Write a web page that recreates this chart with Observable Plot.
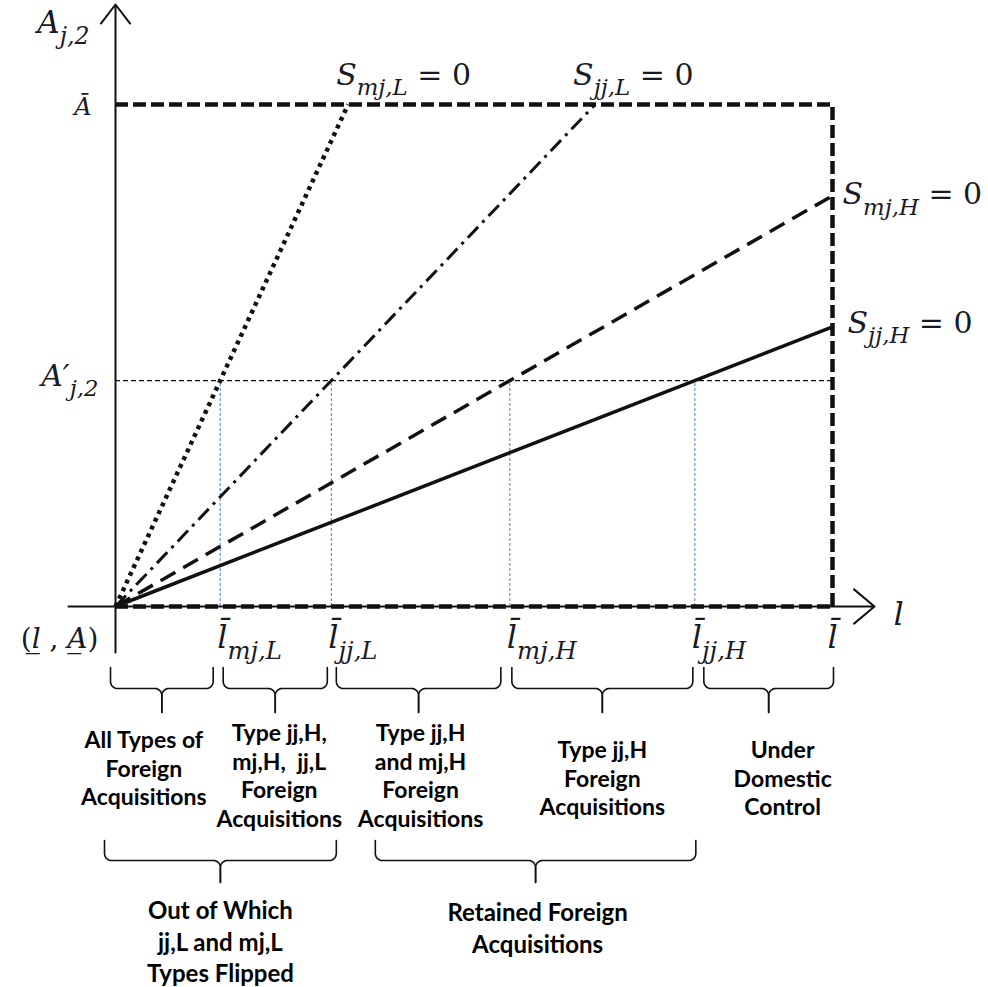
<!DOCTYPE html>
<html><head><meta charset="utf-8">
<script src="https://cdn.jsdelivr.net/npm/d3@7"></script>
<script src="https://cdn.jsdelivr.net/npm/@observablehq/plot@0.6"></script>
<style>html,body{margin:0;padding:0;background:#fff}</style>
</head><body><div id="chart"></div>
<script>
// ---------------- data ----------------
const thresholdKeys = ["mj,L", "jj,L", "mj,H", "jj,H"];
const thresholdValues = [1.46, 3.01, 5.50, 8.08];   // l-bar thresholds where each S = 0 line meets A'
const lBar = 10;
const aBar = 10;
const aPrime = 4.5;
const curveLabels = ["S_{mj,L}| = 0", "S_{jj,L}| = 0", "S_{mj,H}| = 0", "S_{jj,H}| = 0"];
const tickLabels = thresholdKeys.map(k => "l\u0304_{" + k + "}");
const row1Labels = [
  "All Types of\nForeign\nAcquisitions",
  "Type jj,H,\nmj,H,  jj,L\nForeign\nAcquisitions",
  "Type jj,H\nand mj,H\nForeign\nAcquisitions",
  "Type jj,H\nForeign\nAcquisitions",
  "Under\nDomestic\nControl"
];
const row2Labels = ["Out of Which\njj,L and mj,L\nTypes Flipped", "Retained Foreign\nAcquisitions"];

// ---------------- layout ----------------
const W = 988, H = 987;
const F = {x0: 115, y0: 606, kx: 71.7, ky: 50.2};
const xAt = px => (px - F.x0) / F.kx;
const yAt = py => (F.y0 - py) / F.ky;
const pxX = v => F.x0 + v * F.kx;

const curves = thresholdValues.map((t, i) => {
  const s = aPrime / t;
  const x2 = Math.min(lBar, aBar / s);
  return {i, x1: 0, y1: 0, x2, y2: s * x2, label: curveLabels[i]};
});
const curveStyles = [
  {strokeWidth: 4.5, strokeDasharray: "4,4.5"},
  {strokeWidth: 3, strokeDasharray: "15,6,3,6"},
  {strokeWidth: 3.5, strokeDasharray: "17,9"},
  {strokeWidth: 3.5}
];
const curveLabelPos = [
  {dx: -12, dy: -29}, {dx: -22, dy: -29}, {dx: 10, dy: -1}, {dx: 15, dy: -4}
];

function braceLines(pxA, pxB, top, mid, tip, id, r = 7) {
  const m = (pxA + pxB) / 2, out = [];
  const half = (edge, dir, hid) => {
    const pts = [[edge, top]];
    const arc = (cx, cy, a0, a1) => {
      for (let k = 0; k <= 8; k++) {
        const a = a0 + (a1 - a0) * k / 8;
        pts.push([cx + r * Math.cos(a), cy + r * Math.sin(a)]);
      }
    };
    if (dir > 0) { arc(edge + r, mid - r, Math.PI, Math.PI / 2); arc(m - r, mid + r, -Math.PI / 2, 0); }
    else { arc(edge - r, mid - r, 0, Math.PI / 2); arc(m + r, mid + r, -Math.PI / 2, -Math.PI); }
    pts.push([m, tip]);
    pts.forEach(([x, y]) => out.push({x: xAt(x), y: yAt(y), id: hid}));
  };
  half(pxA, 1, id + "L");
  half(pxB, -1, id + "R");
  return out;
}

const bounds = [0, ...thresholdValues, lBar];
const row1Inset = [[-5, -7], [3, -4], [5, -9], [2, -2], [9, 1]];
const row1Dx = [-18, 4, 2, 0, 14];
const row1FirstLine = [735, 728, 728, 745, 745];
let braceData = [];
const row1Text = row1Labels.map((label, i) => {
  const a = pxX(bounds[i]) + row1Inset[i][0], b = pxX(bounds[i + 1]) + row1Inset[i][1];
  braceData = braceData.concat(braceLines(a, b, 667, 688, 712, "r1_" + i));
  return {x: xAt((a + b) / 2 + row1Dx[i]), y: yAt(row1FirstLine[i] - 8), text: label};
});
const row2Spans = [[0, thresholdValues[1], -11, 5], [thresholdValues[1], thresholdValues[3], 44, 1]];
const row2Dx = [0, 2];
const row2FirstLine = [905, 907];
const row2Text = row2Labels.map((label, i) => {
  const [u, v, ia, ib] = row2Spans[i];
  const a = pxX(u) + ia, b = pxX(v) + ib;
  braceData = braceData.concat(braceLines(a, b, 840, 860, 882, "r2_" + i));
  return {x: xAt((a + b) / 2 + row2Dx[i]), y: yAt(row2FirstLine[i] - 8.4), text: label};
});

const ink = "#111";
const mathColor = "#1a1a24";
const mathFont = "DejaVu Serif";
const mathText = (data, opts) => Plot.text(data, {
  fontFamily: mathFont, fontStyle: "italic", fill: mathColor, ariaDescription: "math",
  lineAnchor: "middle", ...opts
});

const xAxisStart = xAt(68), xAxisEnd = xAt(874);
const yAxisStart = yAt(652), yAxisEnd = yAt(4);

const plot = Plot.plot({
  width: W, height: H,
  marginTop: 0, marginRight: 0, marginBottom: 0, marginLeft: 0,
  x: {domain: [xAt(0), xAt(W)], axis: null},
  y: {domain: [yAt(H), yAt(0)], axis: null},
  style: {background: "#fff", overflow: "visible"},
  marks: [
    // thin guide lines
    Plot.ruleX(thresholdValues, {y1: 0, y2: aPrime, stroke: "#4a7cc9", strokeWidth: 1, strokeDasharray: "3,2"}),
    Plot.ruleY([aPrime], {x1: 0, x2: lBar, stroke: ink, strokeWidth: 1.3, strokeDasharray: "5,3"}),
    // axes
    Plot.arrow([{x1: xAxisStart, y1: 0, x2: xAxisEnd, y2: 0}], {x1: "x1", y1: "y1", x2: "x2", y2: "y2", stroke: ink, strokeWidth: 2, headLength: 20, headAngle: 80}),
    Plot.arrow([{x1: 0, y1: yAxisStart, x2: 0, y2: yAxisEnd}], {x1: "x1", y1: "y1", x2: "x2", y2: "y2", stroke: ink, strokeWidth: 2, headLength: 18, headAngle: 75}),
    // dashed bounding box
    Plot.ruleY([aBar, 0], {x1: 0, x2: lBar, stroke: ink, strokeWidth: 4.5, strokeDasharray: "13,5"}),
    Plot.ruleX([lBar], {y1: 0, y2: aBar, stroke: ink, strokeWidth: 4.5, strokeDasharray: "13,5"}),
    // S = 0 lines
    ...curves.map((c, i) => Plot.link([c], {x1: "x1", y1: "y1", x2: "x2", y2: "y2", stroke: ink, ...curveStyles[i]})),
    // curve labels
    ...curves.map((c, i) => mathText([c], {x: "x2", y: "y2", text: "label", textAnchor: "start", fontSize: 30, ...curveLabelPos[i]})),
    // tick labels
    mathText(thresholdValues.map((v, i) => ({v, t: tickLabels[i]})), {x: "v", y: 0, text: "t", textAnchor: "start", dx: -3, dy: 31, fontSize: 32}),
    mathText([{v: lBar, t: "l\u0304"}], {x: "v", y: 0, text: "t", textAnchor: "middle", dy: 31, fontSize: 32}),
    mathText([{v: xAxisEnd, t: "l"}], {x: "v", y: 0, text: "t", textAnchor: "start", dx: 19, dy: 8, fontSize: 32}),
    mathText([{t: "|(|l\u0332| , |A\u0332|)"}], {x: 0, y: 0, text: "t", textAnchor: "end", dx: -17, dy: 33, fontSize: 28}),
    mathText([{v: aBar, t: "A\u0304"}], {x: 0, y: "v", text: "t", textAnchor: "end", dx: -24, dy: 3, fontSize: 24}),
    mathText([{v: aPrime, t: "A\u2032_{j,2}"}], {x: 0, y: "v", text: "t", textAnchor: "end", dx: -17, dy: -4, fontSize: 30}),
    mathText([{v: yAxisEnd, t: "A_{j,2}"}], {x: 0, y: "v", text: "t", textAnchor: "end", dx: -26, dy: 19, fontSize: 31}),
    // braces and their texts
    Plot.line(braceData, {x: "x", y: "y", z: "id", stroke: ink, strokeWidth: 1.6}),
    Plot.text(row1Text, {x: "x", y: "y", text: "text", fontFamily: "Lato", fontWeight: "bold", fontSize: 23, lineHeight: 1.25, lineAnchor: "top", textAnchor: "middle", fill: "#000"}),
    Plot.text(row2Text, {x: "x", y: "y", text: "text", fontFamily: "Lato", fontWeight: "bold", fontSize: 24, lineHeight: 1.31, lineAnchor: "top", textAnchor: "middle", fill: "#000"})
  ]
});

// turn "_{...}" into subscripts and "|" into upright toggles
function mathify(el, size) {
  const s = el.textContent;
  el.textContent = "";
  el.setAttribute("style", "white-space:pre");
  const re = /_\{([^}]*)\}|\|/g;
  let last = 0, m, shift = 0, upright = false;
  const add = (t, sub) => {
    if (!t) return;
    const ts = document.createElementNS("http://www.w3.org/2000/svg", "tspan");
    ts.textContent = t;
    const target = sub ? size * 0.34 : 0;
    if (target !== shift) { ts.setAttribute("dy", target - shift); shift = target; }
    if (sub) ts.setAttribute("font-size", size * 0.76);
    if (upright) ts.setAttribute("font-style", "normal");
    el.appendChild(ts);
  };
  while ((m = re.exec(s))) {
    add(s.slice(last, m.index), false);
    if (m[1] !== undefined) add(m[1], true); else upright = !upright;
    last = re.lastIndex;
  }
  add(s.slice(last), false);
}
plot.querySelectorAll("g").forEach(g => {
  if (g.getAttribute("aria-description") !== "math") return;
  const size = parseFloat(g.getAttribute("font-size")) || 30;
  g.querySelectorAll("text").forEach(t => mathify(t, size));
});
document.getElementById("chart").appendChild(plot);
</script></body></html>
